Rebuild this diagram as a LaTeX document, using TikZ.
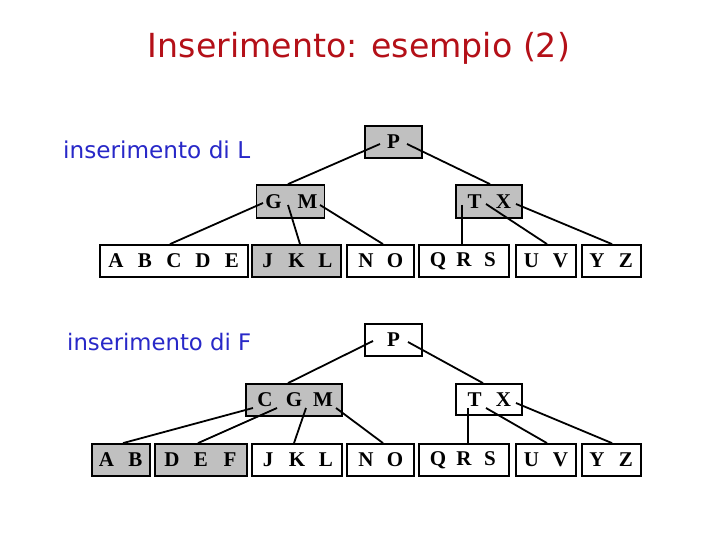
\documentclass[tikz,border=0pt]{standalone}
\usepackage{fontspec}
\setmainfont{Liberation Serif}
\newfontfamily\lblfont{DejaVu Sans}
\usetikzlibrary{calc}
\definecolor{titlered}{RGB}{180,16,24}
\definecolor{lblblue}{RGB}{40,40,200}
\definecolor{boxgray}{RGB}{192,192,192}
\newcommand\lt[1]{\makebox[29pt]{#1}}
\newcommand\ltw[1]{\makebox[34pt]{#1}}
\tikzset{
  bnode/.style={draw=black, line width=1.8pt, inner sep=0pt, minimum height=32pt,
    font=\fontsize{21}{21}\selectfont\bfseries},
  gbox/.style={bnode, fill=boxgray},
  wbox/.style={bnode, fill=white},
  conn/.style={line width=1.8pt, black},
  lbl/.style={anchor=base west, inner sep=0pt, text=lblblue, font=\lblfont},
}
\begin{document}
\begin{tikzpicture}[x=1pt,y=-1pt]
\useasboundingbox (0,0) rectangle (720,540);
\fill[white] (0,0) rectangle (720,540);

\node[anchor=base, inner sep=0pt, text=titlered, font=\lblfont] (title) at (359,58)
  {\resizebox{422pt}{!}{Inserimento: esempio (2)}};
\node[lbl] (lblL) at (63,159) {\resizebox{187pt}{!}{inserimento di L}};
\node[lbl] (lblF) at (67,350) {\resizebox{184pt}{!}{inserimento di F}};

% top tree
\node[gbox, minimum width=57pt] (p1) at (393.5,142) {P};
\node[gbox, minimum width=67pt, minimum height=33pt] (gm) at (290.5,201.5) {\ltw{G}\ltw{M}};
\node[gbox, minimum width=66pt, minimum height=33pt] (tx) at (489,201.5) {\lt{T}\lt{X}};
\node[wbox, minimum width=148pt] (abcde) at (174,261) {\lt{A}\lt{B}\lt{C}\lt{D}\lt{E}};
\node[gbox, minimum width=89pt] (jkl) at (296.5,261) {\lt{J}\lt{K}\lt{L}};
\node[wbox, minimum width=67pt] (no) at (380.5,261) {\lt{N}\lt{O}};
\node[wbox, minimum width=90pt] (qrs) at (464,261) {\makebox[26pt]{Q}\makebox[26pt]{R}\makebox[26pt]{S}};
\node[wbox, minimum width=60pt] (uv) at (546,261) {\lt{U}\lt{V}};
\node[wbox, minimum width=59pt] (yz) at (611.5,261) {\lt{Y}\lt{Z}};

\draw[conn] ($(p1)+(-13.5,2)$) -- ($(gm.north)+(-2.5,0)$);
\draw[conn] ($(p1)+(13.5,2)$) -- ($(tx.north)+(1,0)$);
\draw[conn] ($(gm)+(-27.5,1.5)$) -- ($(abcde.north)+(-4,0)$);
\draw[conn] ($(gm)+(-2.5,3.5)$) -- ($(jkl.north)+(3.5,0)$);
\draw[conn] ($(gm)+(29.5,3.5)$) -- ($(no.north)+(2.5,0)$);
\draw[conn] ($(tx)+(-27,3.5)$) -- ($(qrs.north)+(-2,0)$);
\draw[conn] ($(tx)+(-3,2.5)$) -- ($(uv.north)+(1,0)$);
\draw[conn] ($(tx)+(27,2.5)$) -- ($(yz.north)+(0.5,0)$);

% bottom tree
\node[wbox, minimum width=57pt] (p2) at (393.5,340) {P};
\node[gbox, minimum width=96pt] (cgm) at (294,400) {\lt{C}\lt{G}\lt{M}};
\node[wbox, minimum width=66pt, minimum height=31pt] (tx2) at (489,399.5) {\lt{T}\lt{X}};
\node[gbox, minimum width=58pt] (ab) at (121,460) {\lt{A}\lt{B}};
\node[gbox, minimum width=92pt] (def) at (201,460) {\lt{D}\lt{E}\lt{F}};
\node[wbox, minimum width=90pt] (jkl2) at (297,460) {\lt{J}\lt{K}\lt{L}};
\node[wbox, minimum width=67pt] (no2) at (380.5,460) {\lt{N}\lt{O}};
\node[wbox, minimum width=90pt] (qrs2) at (464,460) {\makebox[26pt]{Q}\makebox[26pt]{R}\makebox[26pt]{S}};
\node[wbox, minimum width=60pt] (uv2) at (546,460) {\lt{U}\lt{V}};
\node[wbox, minimum width=59pt] (yz2) at (611.5,460) {\lt{Y}\lt{Z}};

\draw[conn] ($(p2)+(-20.5,1)$) -- ($(cgm.north)+(-6,0)$);
\draw[conn] ($(p2)+(14.5,2)$) -- ($(tx2.north)+(-6,0)$);
\draw[conn] ($(cgm)+(-41,8)$) -- ($(ab.north)+(2,0)$);
\draw[conn] ($(cgm)+(-17,8)$) -- ($(def.north)+(-3,0)$);
\draw[conn] ($(cgm)+(12,8)$) -- ($(jkl2.north)+(-3,0)$);
\draw[conn] ($(cgm)+(42,8)$) -- ($(no2.north)+(2.5,0)$);
\draw[conn] ($(tx2)+(-21,8.5)$) -- ($(qrs2.north)+(4,0)$);
\draw[conn] ($(tx2)+(-3,8.5)$) -- ($(uv2.north)+(1,0)$);
\draw[conn] ($(tx2)+(27,3.5)$) -- ($(yz2.north)+(0.5,0)$);
\end{tikzpicture}
\end{document}
